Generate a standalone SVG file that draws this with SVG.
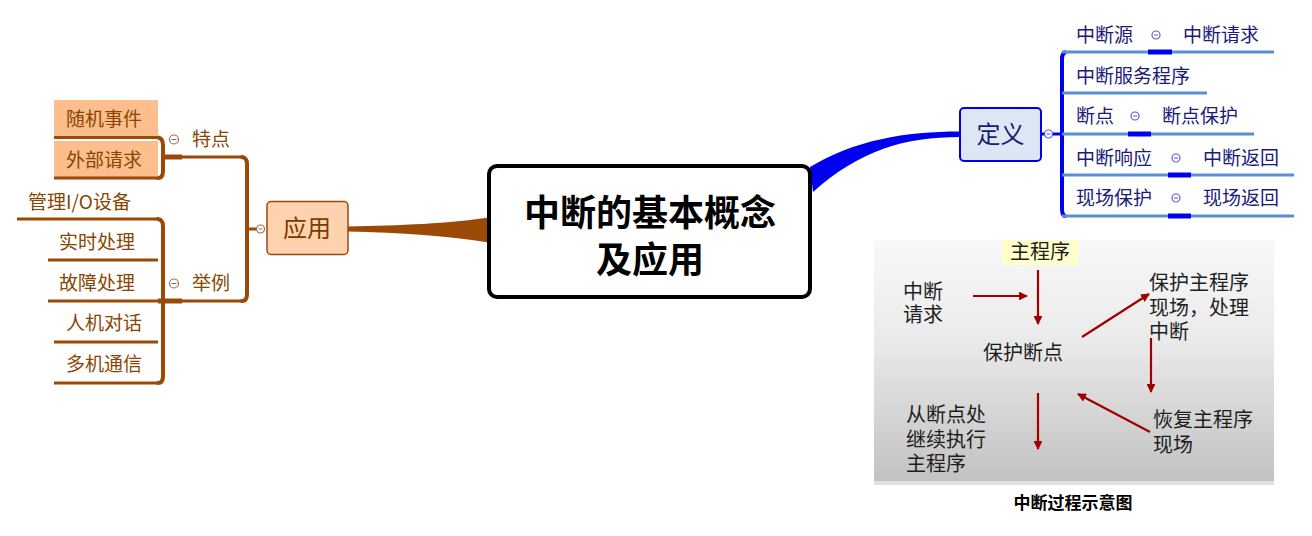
<svg xmlns="http://www.w3.org/2000/svg" width="1312" height="536" viewBox="0 0 1312 536">
<defs>
<style>
.cn{font-family:"Noto Sans CJK SC","Noto Sans",sans-serif;}
.br{fill:#8a4500;font-size:19px;}
.bl{fill:#1a1a78;font-size:19px;}
.pic{fill:#1e1e1e;font-size:20px;}
.bline{stroke:#9a4a06;stroke-width:3;fill:none;}
.bbrk{stroke:#9a4a06;stroke-width:4;fill:none;stroke-linecap:round;}
.lline{stroke:#5b8ed6;stroke-width:3;fill:none;}
.blseg{stroke:#0000f0;stroke-width:5;}
.tog{fill:#fff;stroke-width:1.2;}
.tog-b{stroke:#9c6a4a;}
.tog-l{stroke:#5a5ad8;}
.arr{stroke:#a00000;stroke-width:2.2;fill:none;marker-end:url(#ah);}
</style>
<marker id="ah" viewBox="0 0 10 10" refX="9" refY="5" markerWidth="4" markerHeight="4" orient="auto" markerUnits="strokeWidth">
<path d="M0,0 L10,5 L0,10 z" fill="#a00000"/>
</marker>
<linearGradient id="g" x1="0" y1="0" x2="0" y2="1">
<stop offset="0" stop-color="#f8f8f8"/>
<stop offset="0.4" stop-color="#ebebeb"/>
<stop offset="1" stop-color="#c2c2c2"/>
</linearGradient>
</defs>

<g id="connectors">
<path d="M348,226.5 C400,225.5 450,223.5 489,217.5 L489,242.5 C450,236 400,232.5 348,231.5 Z" fill="#9a4a06"/>
<path d="M810,167 C855,140 905,131.5 960,131.5 L960,137 C905,137 860,150 813,192 Z" fill="#0000f0"/>
<path class="bline" d="M182,157 H243"/>
<path class="bline" d="M182,301 H243"/>
<path class="bbrk" d="M242,157 Q247,158 247,164 V294 Q247,301 242,301"/>
<path class="bline" d="M247,229 H257"/>
<path class="bbrk" d="M158,137.5 Q163,138.5 163,145 V171 Q163,178 158,178"/>
<path d="M163,157 H182" stroke="#9a4a06" stroke-width="5"/>
<path class="bbrk" d="M158,219 Q163,220 163,226 V376 Q163,383 158,383"/>
<path d="M158,301 H182" stroke="#9a4a06" stroke-width="5"/>
<path d="M1041,134 H1062" stroke="#0000f0" stroke-width="3"/>
<path d="M1066,52 Q1062,53 1062,59 V209 Q1062,216 1066,216" stroke="#0000f0" stroke-width="4" fill="none"/>
<path class="lline" d="M1062,52 H1274"/>
<path class="lline" d="M1062,93 H1207"/>
<path class="lline" d="M1062,134 H1254"/>
<path class="lline" d="M1062,175 H1294"/>
<path class="lline" d="M1062,216 H1294"/>
<path class="blseg" d="M1148,52 H1172"/>
<path class="blseg" d="M1128,134 H1151"/>
<path class="blseg" d="M1168,175 H1191"/>
<path class="blseg" d="M1168,216 H1191"/>
</g>

<g id="root">
<rect x="489" y="166" width="321" height="131" rx="8" fill="#fff" stroke="#000" stroke-width="4"/>
<text class="cn" x="650" y="226" text-anchor="middle" font-size="36" font-weight="bold" fill="#000">中断的基本概念</text>
<text class="cn" x="650" y="273" text-anchor="middle" font-size="36" font-weight="bold" fill="#000">及应用</text>
</g>

<g id="n-yingyong">
<rect x="267" y="201.5" width="81" height="53" rx="4" fill="#fcd3ae" stroke="#9a4a06" stroke-width="1.5"/>
<text class="cn" x="307" y="237" text-anchor="middle" font-size="24" fill="#7a3a00">应用</text>
<circle class="tog tog-b" cx="260.5" cy="229" r="4"/>
<path d="M258.5,229 H262.5" stroke="#9c6a4a" stroke-width="1"/>
</g>

<g id="n-tedian">
<text class="cn br" x="192" y="146">特点</text>
<circle class="tog tog-b" cx="174" cy="139.5" r="4.5"/>
<path d="M171.5,139.5 H176.5" stroke="#9c6a4a" stroke-width="1"/>
</g>
<g id="n-suiji">
<rect x="54" y="100" width="104" height="37" fill="#fbbe8c"/>
<path class="bline" d="M54,137.5 H158"/>
<text class="cn br" x="66" y="126">随机事件</text>
</g>
<g id="n-waibu">
<rect x="54" y="141" width="104" height="37" fill="#fbbe8c"/>
<path class="bline" d="M54,178 H158"/>
<text class="cn br" x="66" y="167">外部请求</text>
</g>

<g id="n-juli">
<text class="cn br" x="192" y="290">举例</text>
<circle class="tog tog-b" cx="174" cy="283.5" r="4.5"/>
<path d="M171.5,283.5 H176.5" stroke="#9c6a4a" stroke-width="1"/>
</g>
<g id="n-guanli">
<path class="bline" d="M17,219 H158"/>
<text class="cn br" x="28" y="209">管理I/O设备</text>
</g>
<g id="n-shishi">
<path class="bline" d="M48,260 H158"/>
<text class="cn br" x="59" y="249">实时处理</text>
</g>
<g id="n-guzhang">
<path class="bline" d="M48,301 H158"/>
<text class="cn br" x="59" y="290">故障处理</text>
</g>
<g id="n-renji">
<path class="bline" d="M54,342 H158"/>
<text class="cn br" x="66" y="330">人机对话</text>
</g>
<g id="n-duoji">
<path class="bline" d="M54,383 H158"/>
<text class="cn br" x="66" y="371">多机通信</text>
</g>

<g id="n-dingyi">
<rect x="960" y="108" width="81" height="53" rx="4" fill="#dce6f4" stroke="#0000f0" stroke-width="2"/>
<text class="cn" x="1000.5" y="143" text-anchor="middle" font-size="24" fill="#1a1a6e">定义</text>
<circle class="tog tog-l" cx="1048.5" cy="134" r="4"/>
<path d="M1046.5,134 H1050.5" stroke="#5a5ad8" stroke-width="1"/>
</g>
<g id="n-zdy">
<text class="cn bl" x="1076" y="42">中断源</text>
<circle class="tog tog-l" cx="1156" cy="35" r="4"/>
<path d="M1154,35 H1158" stroke="#5a5ad8" stroke-width="1"/>
<text class="cn bl" x="1183" y="42">中断请求</text>
</g>
<g id="n-fwcx">
<text class="cn bl" x="1076" y="83">中断服务程序</text>
</g>
<g id="n-dd">
<text class="cn bl" x="1076" y="123">断点</text>
<circle class="tog tog-l" cx="1135" cy="116" r="4"/>
<path d="M1133,116 H1137" stroke="#5a5ad8" stroke-width="1"/>
<text class="cn bl" x="1162" y="123">断点保护</text>
</g>
<g id="n-xy">
<text class="cn bl" x="1076" y="165">中断响应</text>
<circle class="tog tog-l" cx="1176" cy="158" r="4"/>
<path d="M1174,158 H1178" stroke="#5a5ad8" stroke-width="1"/>
<text class="cn bl" x="1203" y="165">中断返回</text>
</g>
<g id="n-xc">
<text class="cn bl" x="1076" y="205">现场保护</text>
<circle class="tog tog-l" cx="1176" cy="198" r="4"/>
<path d="M1174,198 H1178" stroke="#5a5ad8" stroke-width="1"/>
<text class="cn bl" x="1203" y="205">现场返回</text>
</g>

<g id="process-figure">
<rect x="874" y="240" width="400" height="241" fill="url(#g)"/>
<rect x="874" y="481" width="400" height="4" fill="#e2e2e2"/>
<rect x="1002" y="240" width="76" height="25" fill="#ffffcc"/>
<text class="cn pic" x="1040" y="259" text-anchor="middle" font-size="19">主程序</text>
<text class="cn pic" x="903" y="299">中断<tspan x="903" dy="23">请求</tspan></text>
<text class="cn pic" x="983" y="360">保护断点</text>
<text class="cn pic" x="1149" y="290">保护主程序<tspan x="1149" dy="25">现场，处理</tspan><tspan x="1149" dy="24">中断</tspan></text>
<text class="cn pic" x="1153" y="427">恢复主程序<tspan x="1153" dy="25">现场</tspan></text>
<text class="cn pic" x="906" y="422">从断点处<tspan x="906" dy="25">继续执行</tspan><tspan x="906" dy="24">主程序</tspan></text>
<path class="arr" d="M973,296 H1027"/>
<path class="arr" d="M1038,270 V324"/>
<path class="arr" d="M1082,337 L1149,294"/>
<path class="arr" d="M1151,338 V392"/>
<path class="arr" d="M1150,432 L1078,394"/>
<path class="arr" d="M1038,393 V449"/>
<text class="cn" x="1073" y="509" text-anchor="middle" font-size="17" font-weight="bold" fill="#000">中断过程示意图</text>
</g>
</svg>
